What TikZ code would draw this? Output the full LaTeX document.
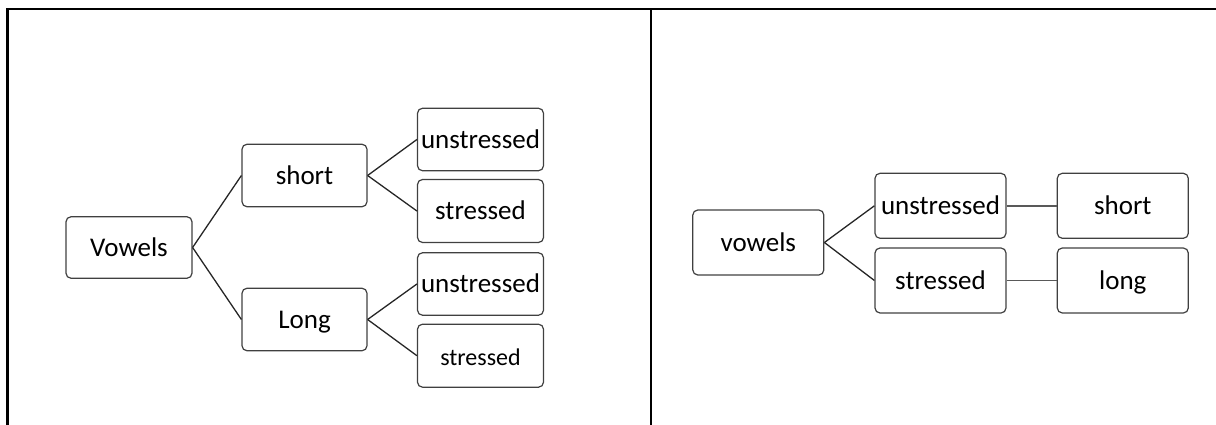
\documentclass[tikz,border=0pt]{standalone}
\usepackage{fontspec}
\setmainfont{Carlito}
\begin{document}
\begin{tikzpicture}[x=1pt,y=-1pt,
  box/.style={draw=black!75, line width=1.2pt, rounded corners=5pt, inner sep=0pt,
    font=\fontsize{27}{32}\selectfont, text height=17.4pt, text depth=0pt},
  smalltext/.style={font=\fontsize{24}{29}\selectfont, text height=18.6pt},
  link/.style={draw=black!85, line width=1.3pt},
  flat/.style={draw=black!65, line width=1.4pt},
  frame/.style={draw=black, line width=2.8pt}]
\useasboundingbox (0,0) rectangle (1216,425);
% frame
\draw[frame] (7.5,425) -- (7.5,9) -- (1216,9);
\draw[frame] (651,9) -- (651,425);
% left panel
\node[box, minimum width=126pt, minimum height=61.5pt] (V) at (129,247.5) {Vowels};
\node[box, minimum width=125pt, minimum height=62.5pt] (S) at (304.5,175.5) {short};
\node[box, minimum width=125pt, minimum height=62.5pt] (L) at (304.5,319.5) {Long};
\node[box, minimum width=126pt, minimum height=62.5pt] (SU) at (480.5,139.5) {unstressed};
\node[box, minimum width=126pt, minimum height=63pt] (SS) at (480.5,211) {stressed};
\node[box, minimum width=126pt, minimum height=62.5pt] (LU) at (480.5,284) {unstressed};
\node[box, smalltext, minimum width=126pt, minimum height=63pt] (LS) at (480.5,355.7) {stressed};
\draw[link] (V.east) -- (S.west);
\draw[link] (V.east) -- (L.west);
\draw[link] (S.east) -- (SU.west);
\draw[link] (S.east) -- (SS.west);
\draw[link] (L.east) -- (LU.west);
\draw[link] (L.east) -- (LS.west);
% right panel
\node[box, minimum width=131pt, minimum height=65pt] (v) at (758.3,242.5) {vowels};
\node[box, minimum width=131pt, minimum height=65pt] (u) at (940.5,205.8) {unstressed};
\node[box, minimum width=131pt, minimum height=65pt] (s) at (940.5,280.5) {stressed};
\node[box, minimum width=131pt, minimum height=65pt] (sh) at (1122.8,205.8) {short};
\node[box, minimum width=131pt, minimum height=65pt] (lo) at (1122.8,280.5) {long};
\draw[link] (v.east) -- (u.west);
\draw[link] (v.east) -- (s.west);
\draw[flat] (u.east) -- (sh.west);
\draw[flat] (s.east) -- (lo.west);
\end{tikzpicture}
\end{document}
